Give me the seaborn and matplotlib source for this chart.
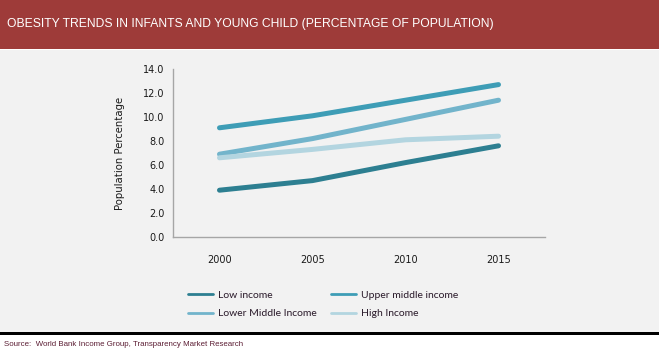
import matplotlib
matplotlib.use("Agg")
import matplotlib.pyplot as plt
import seaborn as sns
import pandas as pd
from matplotlib.patches import Rectangle
from matplotlib.lines import Line2D

years = ["2000", "2005", "2010", "2015"]
low_income = [3.9, 4.7, 6.2, 7.6]
upper_middle_income = [9.1, 10.1, 11.4, 12.7]
lower_middle_income = [6.9, 8.2, 9.8, 11.4]
high_income = [6.6, 7.3, 8.1, 8.4]

series_names = ["Low income", "Lower Middle Income", "Upper middle income", "High Income"]
series_values = [low_income, lower_middle_income, upper_middle_income, high_income]
colors = {"Low income": "#2D7F91", "Lower Middle Income": "#72B4CB",
          "Upper middle income": "#3E9DB6", "High Income": "#B3D5E0"}

rows = []
for name, vals in zip(series_names, series_values):
    for i, (yr, v) in enumerate(zip(years, vals)):
        rows.append({"pos": i, "year": yr, "value": v, "series": name})
df = pd.DataFrame(rows)

sns.set_style("white")
plt.rcParams['font.family'] = ['DejaVu Sans']

W, H = 659, 360
fig = plt.figure(figsize=(W / 100, H / 100), dpi=100)
fig.patch.set_facecolor("white")

# background panels
fig.add_artist(Rectangle((0, 1 - 49 / H), 1, 49 / H, transform=fig.transFigure,
                         facecolor="#9E3B39", edgecolor="none", zorder=0))
fig.add_artist(Rectangle((0, 1 - 332 / H), 1, (332 - 50) / H, transform=fig.transFigure,
                         facecolor="#F2F2F2", edgecolor="none", zorder=0))
fig.add_artist(Rectangle((0, 1 - 335 / H), 1, 3 / H, transform=fig.transFigure,
                         facecolor="#000000", edgecolor="none", zorder=0))

fig.text(7 / W, 1 - 24 / H, "OBESITY TRENDS IN INFANTS AND YOUNG CHILD (PERCENTAGE OF POPULATION)",
         color="white", fontsize=8.7, family=["Liberation Sans", "DejaVu Sans"],
         va="center", ha="left")
fig.text(4 / W, 1 - 345 / H, "Source:  World Bank Income Group, Transparency Market Research",
         color="#5C1E34", fontsize=5.7, family=["Liberation Sans", "DejaVu Sans"],
         va="center", ha="left")

ax = fig.add_axes([173 / W, 1 - 237 / H, (545 - 173) / W, (237 - 69) / H])
ax.set_facecolor("none")
sns.lineplot(data=df, x="pos", y="value", hue="series", hue_order=series_names,
             palette=colors, linewidth=3.6, ax=ax, legend=False, zorder=3)
for ln in ax.get_lines():
    ln.set_solid_capstyle("round")

ax.set_xlim(-0.5, 3.5)
ax.set_ylim(0, 14)
ax.set_yticks([0, 2, 4, 6, 8, 10, 12, 14])
ax.set_yticklabels([f"{v:.1f}" for v in [0, 2, 4, 6, 8, 10, 12, 14]])
ax.set_xticks([-0.5, 0.5, 1.5, 2.5, 3.5])
ax.set_xticklabels([])
ax.set_xticks([0, 1, 2, 3], minor=True)
ax.set_xticklabels(years, minor=True)
ax.tick_params(axis="x", which="major", length=4, width=1, color="#A6A6A6", direction="out")
ax.tick_params(axis="x", which="minor", length=0, pad=13, labelsize=7, labelcolor="#1a1a1a")
ax.tick_params(axis="y", length=4, width=1, color="#A6A6A6", direction="out", pad=2,
               labelsize=7, labelcolor="#1a1a1a")
for s in ["top", "right"]:
    ax.spines[s].set_visible(False)
for s in ["left", "bottom"]:
    ax.spines[s].set_color("#A6A6A6")
    ax.spines[s].set_linewidth(1)
ax.set_xlabel("")
ax.set_ylabel("Population Percentage", fontsize=7.3, color="#1a1a1a", labelpad=13)

handles = [Line2D([0], [0], color=colors[n], linewidth=2.0) for n in series_names]
leg = fig.legend(handles, series_names, loc="upper left",
                 bbox_to_anchor=(179 / W, 1 - 281 / H), ncol=2, frameon=False,
                 prop={"family": "Lato", "size": 7.5}, handlelength=2.4,
                 handletextpad=0.4, columnspacing=1.45, labelspacing=0.9)
for t in leg.get_texts():
    t.set_color("#2a1a2a")

fig.savefig("out.png", dpi=100, facecolor="white")
